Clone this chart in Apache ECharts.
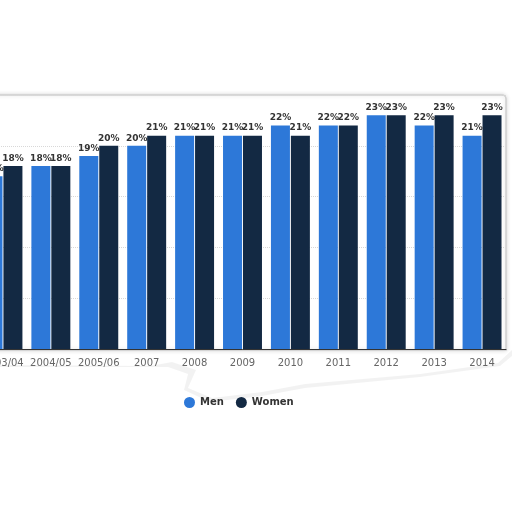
<!DOCTYPE html>
<html><head><meta charset="utf-8">
<script src="https://cdn.jsdelivr.net/npm/echarts@6/dist/echarts.min.js"></script>
<style>html,body{margin:0;padding:0;background:#fff;overflow:hidden;width:512px;height:512px;position:relative}#c{position:absolute;left:-21px;top:0;width:533px;height:512px}</style>
</head><body><div id="c"></div>
<script>
var categories = ['2003/04','2004/05','2005/06','2007','2008','2009','2010','2011','2012','2013','2014'];
var men   = [17,18,19,20,21,21,22,22,23,22,21];
var women = [18,18,20,21,21,21,21,22,23,23,23];
var seriesNames = ['Men','Women'];
var chart = echarts.init(document.getElementById('c'));
var lbl = {show:true, position:'top', distance:3, formatter:'{c}%', color:'#333', fontSize:9, fontWeight:'bold', fontFamily:'DejaVu Sans'};
var dx = 21;
function sh(pts){return pts.map(function(p){return [p[0]+dx,p[1]];});}
chart.setOption({
  backgroundColor:'#fff',
  animation:false,
  graphic:[
    {type:'polygon', z:-10, shape:{points:sh([[0,365],[150,366],[172,362],[196,370],[188,388],[212,398],[262,392],[305,384],[420,374],[498,363],[512,350],[512,356],[500,366],[420,377],[305,388],[262,396],[210,402],[184,390],[188,374],[168,367],[0,367]])},
     style:{fill:'rgba(0,0,0,0.05)', shadowBlur:18, shadowColor:'rgba(0,0,0,0.22)'}},
    {type:'rect', z:-5, shape:{x:-10+dx, y:95, width:516, height:255, r:[0,4,0,0]},
     style:{fill:'#fff', stroke:'#cfcfcf', lineWidth:1.5, shadowBlur:4, shadowColor:'rgba(0,0,0,0.15)'}}
  ],
  grid:{left:0, right:6, top:95, bottom:163, containLabel:false},
  legend:{data:seriesNames, top:392, left:200, icon:'circle', itemWidth:11, itemHeight:11, itemGap:12,
    textStyle:{color:'#333', fontSize:10, fontWeight:'bold', fontFamily:'DejaVu Sans'}},
  xAxis:{type:'category', data:categories,
    axisLine:{lineStyle:{color:'#333', width:1}}, axisTick:{show:false},
    axisLabel:{color:'#666', fontSize:10, margin:9, fontFamily:'DejaVu Sans', interval:0}},
  yAxis:{type:'value', min:0, max:25, interval:5, axisLabel:{show:false}, axisLine:{show:false}, axisTick:{show:false},
    splitLine:{lineStyle:{color:'#d8d8d8', type:'dotted'}}},
  series:[
    {name:seriesNames[0], type:'bar', data:men, barWidth:19, barGap:'5%', itemStyle:{color:'#2d78d8'}, label:lbl},
    {name:seriesNames[1], type:'bar', data:women, barWidth:19, itemStyle:{color:'#132943'}, label:lbl}
  ]
});
</script></body></html>
